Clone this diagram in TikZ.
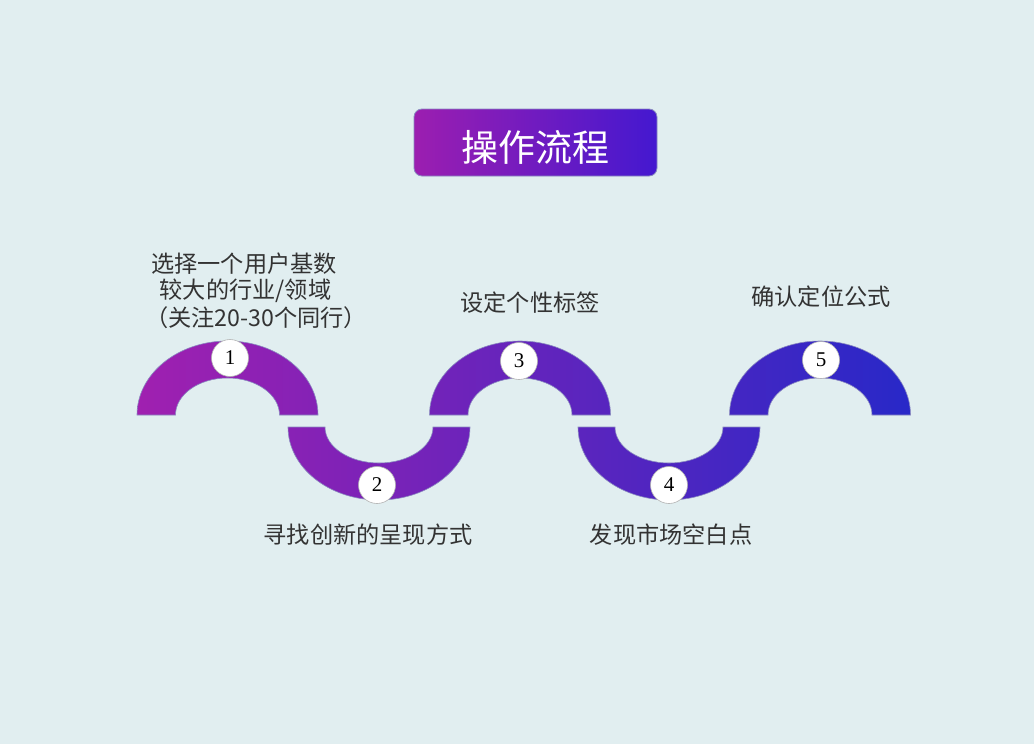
\documentclass[tikz,border=0pt]{standalone}
\usepackage{fontspec}
\setmainfont{Liberation Serif}
\newfontfamily\cjk{Noto Sans CJK SC}
\definecolor{bg}{HTML}{E1EEF0}
\definecolor{cA}{HTML}{A020B0}
\definecolor{cB}{HTML}{2828C8}
\definecolor{tA}{HTML}{9C1EB0}
\definecolor{tB}{HTML}{4418D0}
\definecolor{txt}{HTML}{333333}
\definecolor{edge}{HTML}{8A8AC0}
\begin{document}
\begin{tikzpicture}[x=1pt,y=-1pt,
  titlebox/.style={rounded corners=8pt, left color=tA, right color=tB, draw=edge, line width=0.8pt,
    minimum width=243pt, minimum height=67pt, text=white, font=\cjk\fontsize{37}{40}\selectfont},
  numdot/.style={circle, fill=white, draw=gray!60, line width=0.6pt, minimum size=37pt, inner sep=0pt,
    font=\fontsize{21}{24}\selectfont, text=black},
  lbl/.style={text=txt, inner sep=0pt, font=\cjk\fontsize{23.2}{26}\selectfont}]
\fill[bg] (0,0) rectangle (1034,744);
\useasboundingbox (0,0) rectangle (1034,744);

\node[titlebox] (title) at (535.5,142.5) {\raisebox{-19pt}[0pt][0pt]{操作流程}};

\shadedraw[left color=cA, right color=cB, draw=edge, line width=0.6pt]
  (137,415) arc[start angle=180, end angle=360, x radius=90.5, y radius=74]
    -- (279.5,415) arc[start angle=360, end angle=180, x radius=52, y radius=37] -- cycle
  (288,427) arc[start angle=180, end angle=0, x radius=91, y radius=73]
    -- (433,427) arc[start angle=0, end angle=180, x radius=54, y radius=36] -- cycle
  (429.5,415) arc[start angle=180, end angle=360, x radius=90.5, y radius=74]
    -- (572,415) arc[start angle=360, end angle=180, x radius=52, y radius=37] -- cycle
  (578,427) arc[start angle=180, end angle=0, x radius=91, y radius=73]
    -- (723,427) arc[start angle=0, end angle=180, x radius=54, y radius=36] -- cycle
  (729.5,415) arc[start angle=180, end angle=360, x radius=90.5, y radius=74]
    -- (872,415) arc[start angle=360, end angle=180, x radius=52, y radius=37] -- cycle;

\node[numdot] (c1) at (230,358) {1};
\node[numdot] (c2) at (377,485) {2};
\node[numdot] (c3) at (519,361) {3};
\node[numdot] (c4) at (669,485) {4};
\node[numdot] (c5) at (821,360) {5};

\node[lbl] (l1a) at (244,264) {选择一个用户基数};
\node[lbl] (l1b) at (245.5,291) {较大的行业/领域};
\node[lbl] (l1c) at (256,318) {（关注20-30个同行）};
\node[lbl] (l3) at (530,303) {设定个性标签};
\node[lbl] (l5) at (821,297) {确认定位公式};
\node[lbl] (l2) at (368,535) {寻找创新的呈现方式};
\node[lbl] (l4) at (671,535) {发现市场空白点};
\end{tikzpicture}
\end{document}
